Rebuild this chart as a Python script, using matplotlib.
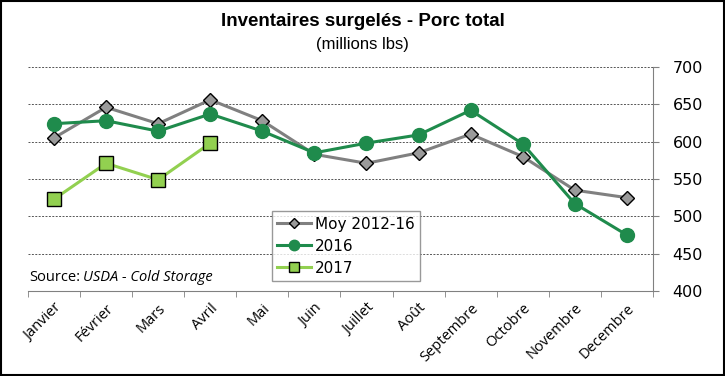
import matplotlib.pyplot as plt
import numpy as np

mois = ['Janvier', 'Février', 'Mars', 'Avril', 'Mai', 'Juin', 'Juillet',
        'Août', 'Septembre', 'Octobre', 'Novembre', 'Decembre']
moy_2012_16 = [605, 646, 624, 656, 628, 583, 571, 585, 610, 580, 535, 525]
val_2016 = [624, 628, 614, 637, 614, 585, 598, 609, 642, 597, 517, 475]
val_2017 = [523, 571, 549, 598]
y_ticks = [400, 450, 500, 550, 600, 650, 700]

fig = plt.figure(figsize=(7.25, 3.76), dpi=100)
ax = fig.add_axes([0.0386, 0.226, 0.862, 0.596])

x = np.arange(len(mois))
ax.plot(x, moy_2012_16, color='#808080', lw=2.2, marker='D', ms=7,
        mfc='#9a9a9a', mec='black', mew=1, label='Moy 2012-16', zorder=3)
ax.plot(x, val_2016, color='#1f8b4c', lw=2.2, marker='o', ms=10,
        mfc='#1f8b4c', mec='#1f8b4c', label='2016', zorder=4)
ax.plot(x[:len(val_2017)], val_2017, color='#92d050', lw=2.2, marker='s', ms=10,
        mfc='#92d050', mec='black', mew=1, label='2017', zorder=5)

ax.set_xlim(-0.5, len(mois) - 0.5)
ax.set_ylim(400, 700)
ax.set_yticks(y_ticks)
ax.yaxis.tick_right()
ax.tick_params(axis='y', length=4, color='#808080', labelsize=11.5, pad=10)
ax.grid(axis='y', color='#555555', ls=(0, (2, 1.5)), lw=0.7)

ax.set_xticks(x)
ax.set_xticklabels(mois, rotation=45, ha='right', rotation_mode='anchor',
                   fontsize=10.5, family='Open Sans')
ax.set_xticks(np.arange(-0.5, len(mois)), minor=True)
ax.tick_params(axis='x', which='major', length=0, pad=7)
ax.tick_params(axis='x', which='minor', length=4, color='#808080')

for s in ['left', 'top']:
    ax.spines[s].set_visible(False)
ax.spines['right'].set_color('#808080')
ax.spines['bottom'].set_color('#808080')

fig.text(0.5, 0.93, 'Inventaires surgelés - Porc total', ha='center',
         fontsize=13.5, fontweight='bold', family='Liberation Sans')
fig.text(0.5, 0.87, '(millions lbs)', ha='center', fontsize=12,
         family='Liberation Sans')
fig.text(0.041, 0.253, 'Source:', fontsize=10.5, family='Open Sans')
fig.text(0.114, 0.253, 'USDA - Cold Storage', fontsize=10.5, family='Open Sans',
         style='italic')

leg = ax.legend(loc='upper left', bbox_to_anchor=(0.39, 0.355), fontsize=11,
                frameon=True, fancybox=False, edgecolor='#808080',
                handlelength=2.2, borderpad=0.35, labelspacing=0.45,
                borderaxespad=0, markerscale=0.75, handletextpad=0.3)
leg.get_frame().set_linewidth(1)

fig.patches.append(plt.Rectangle((0.002, 0.003), 0.996, 0.994, transform=fig.transFigure,
                                 fill=False, ec='black', lw=1.5))

fig.savefig('out.png', dpi=100)
